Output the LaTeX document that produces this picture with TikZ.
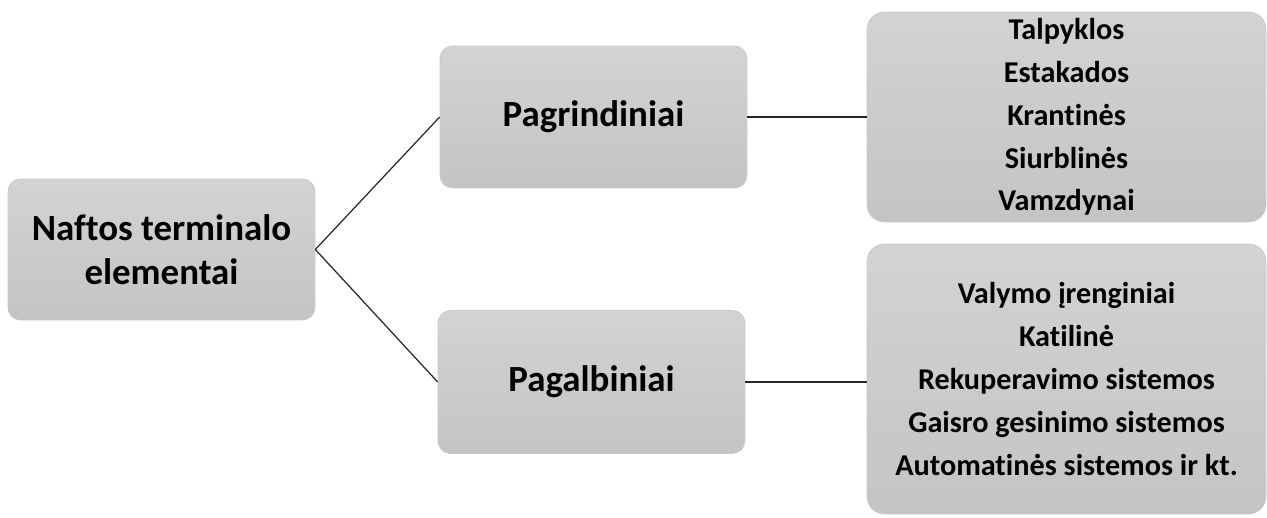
\documentclass[tikz,border=0pt]{standalone}
\usepackage{fontspec}
\setmainfont{Carlito}[Ligatures=NoCommon]
\usetikzlibrary{positioning}

\definecolor{boxtop}{RGB}{211,211,211}
\definecolor{boxbottom}{RGB}{196,196,196}
\definecolor{boxline}{RGB}{200,200,200}

\tikzset{
	box/.style={rounded corners=0.25cm, draw=boxline, line width=0.4pt,
		top color=boxtop, bottom color=boxbottom, align=center,
		font=\bfseries\fontsize{21}{25}\selectfont, inner sep=0pt},
	listbox/.style={box, rounded corners=0.35cm,
		font=\bfseries\fontsize{17.2}{24.4}\selectfont},
	link/.style={line width=0.7pt, black!85}
}

\begin{document}
\begin{tikzpicture}[x=0.02cm, y=0.02cm]
			%%%%% START %%%%%
			\useasboundingbox (0, 0) rectangle (1267, 517);
			
			\node[box, minimum width=6.14cm, minimum height=2.82cm] (root) at (161.5, 267.5)
				{Naftos terminalo\\elementai};
			
			\node[box, minimum width=6.14cm, minimum height=2.84cm] (main) at (593.5, 400)
				{Pagrindiniai};
			\node[box, minimum width=6.14cm, minimum height=2.86cm] (aux) at (591.5, 135)
				{Pagalbiniai};
			
			\node[listbox, minimum width=7.98cm, minimum height=4.2cm] (mainlist) at (1066.5, 400)
				{Talpyklos\\Estakados\\Krantinės\\Siurblinės\\Vamzdynai};
			\node[listbox, minimum width=7.98cm, minimum height=5.4cm] (auxlist) at (1066.5, 138)
				{Valymo įrenginiai\\Katilinė\\Rekuperavimo sistemos\\Gaisro gesinimo sistemos\\Automatinės sistemos ir kt.};
			
			\draw[link] (root.east) -- (main.west);
			\draw[link] (root.east) -- (aux.west);
			\draw[link] (main.east) -- (main.east -| mainlist.west);
			\draw[link] (aux.east) -- (aux.east -| auxlist.west);
			%%%%% END %%%%%
\end{tikzpicture}
\end{document}
